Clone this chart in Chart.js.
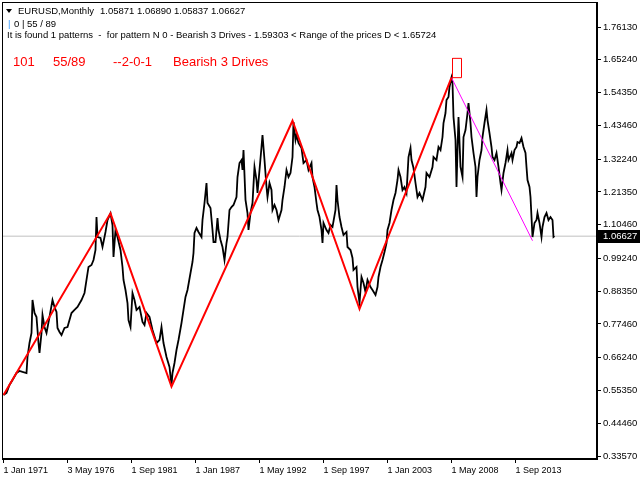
<!DOCTYPE html>
<html>
<head>
<meta charset="utf-8">
<title>EURUSD Monthly - Bearish 3 Drives</title>
<script src="https://cdn.jsdelivr.net/npm/chart.js@4.4.1/dist/chart.umd.min.js"></script>
<style>
  html, body { margin: 0; padding: 0; background: #fff; }
  #wrap { position: relative; width: 640px; height: 480px; }
</style>
</head>
<body>
<div id="wrap"><canvas id="chart"></canvas></div>
<script>
// month index counted from Jan 1971 (0 = Jan 1971)
const months = [
  0,3,6,9,13,16,19,23,24,26,
  28,29,31,33,35,36,38,39,41,43,
  46,49,51,53,54,56,58,61,64,68,
  71,74,78,81,83,85,88,90,92,93,
  94,97,99,102,104,107,109,110,112,114,
  117,119,120,122,124,125,127,129,131,133,
  136,139,141,143,146,149,153,156,158,160,
  163,166,168,169,171,173,175,178,180,182,
  184,187,189,190,191,193,195,198,199,201,
  203,204,207,209,210,212,214,215,217,219,
  221,223,224,226,228,230,233,234,236,238,
  239,240,242,244,245,247,249,251,253,254,
  256,258,259,261,263,264,266,268,269,271,
  273,275,278,279,281,283,285,287,289,290,
  292,293,295,298,300,303,305,308,309,311,
  313,314,316,318,319,320,323,325,327,329,
  332,333,334,336,338,340,343,344,347,349,
  350,353,354,356,358,360,362,364,367,369,
  372,374,375,377,379,381,383,384,386,388,
  390,392,394,395,397,399,401,403,405,407,
  408,410,412,414,416,419,422,423,426,429,
  430,433,435,437,439,440,442,443,445,446,
  448,449,450,452,453,454,455,457,459,460,
  462,464,465,467,468,470,472,473,474,476,
  478,479,481,483,484,486,488,489,491,493,
  495,497,498,500,502,504,505,508,509,511,
  513,514,516,518,520,522,523,524,526,527,
  528,529,531,533,534,536,538,539,541,543,
  545,547,549,550,551
];
const closes = [
  0.5385,0.5452,0.5717,0.5884,0.6116,0.6183,0.6150,0.6116,0.6648,0.7113,
  0.7445,0.8542,0.8110,0.7977,0.7113,0.6781,0.7445,0.8044,0.7645,0.7445,
  0.7977,0.8542,0.8309,0.8143,0.7612,0.7479,0.7379,0.7612,0.7645,0.8110,
  0.8210,0.8309,0.8542,0.8775,0.9207,0.9639,0.9705,0.9871,1.0203,1.1300,
  1.0635,1.0602,1.0303,1.0802,1.1200,1.1423,1.1034,0.9971,1.0868,1.0635,
  1.0203,0.9639,0.9207,0.8874,0.8442,0.7877,0.7645,0.8775,0.8542,0.8210,
  0.8309,0.7811,0.7711,0.8110,0.7977,0.7545,0.7113,0.7213,0.7645,0.7113,
  0.6648,0.6316,0.5700,0.6116,0.6449,0.6880,0.7213,0.7778,0.8210,0.8642,
  0.8874,0.9439,0.9805,1.0104,1.0768,1.0935,1.0802,1.0635,1.1200,1.1765,
  1.2430,1.1765,1.1599,1.0868,1.0469,1.0469,1.1267,1.0868,1.0536,1.0303,
  0.9871,1.0436,1.0635,1.1533,1.1632,1.1699,1.1965,1.2629,1.3095,1.3194,
  1.2862,1.3526,1.1865,1.1433,1.0868,1.1433,1.1765,1.2962,1.2530,1.2098,
  1.2862,1.3626,1.4025,1.3194,1.2297,1.1965,1.2430,1.2197,1.1533,1.1699,
  1.1533,1.1200,1.1533,1.1865,1.2297,1.2862,1.2629,1.2762,1.3294,1.4457,
  1.3859,1.4025,1.3759,1.3593,1.3095,1.3194,1.2862,1.3095,1.2629,1.2297,
  1.1765,1.1533,1.1300,1.0868,1.0436,1.1101,1.0868,1.0768,1.1034,1.0968,
  1.1533,1.2363,1.1865,1.1300,1.0968,1.0702,1.0802,1.0303,1.0203,0.9938,
  0.9539,0.9639,0.8974,0.8442,0.9306,0.9107,0.8808,0.9207,0.8974,0.8874,
  0.8708,0.8974,0.9306,0.9639,0.9871,1.0137,1.0436,1.0868,1.1101,1.1533,
  1.1865,1.2098,1.2530,1.2862,1.2629,1.2197,1.2297,1.2098,1.3294,1.3593,
  1.3194,1.2928,1.2430,1.1965,1.2098,1.1865,1.2297,1.2762,1.2629,1.2962,
  1.3294,1.3194,1.3626,1.3526,1.3958,1.4424,1.4756,1.5188,1.5288,1.5620,
  1.5930,1.5753,1.4623,1.3859,1.2297,1.3526,1.4623,1.2962,1.2629,1.3958,
  1.4191,1.4756,1.5088,1.4424,1.3958,1.3427,1.2962,1.1965,1.2629,1.3194,
  1.3526,1.3958,1.4424,1.4856,1.4523,1.4091,1.3626,1.3294,1.3194,1.3427,
  1.2962,1.2430,1.2197,1.2762,1.3095,1.3526,1.3194,1.3427,1.3194,1.3526,
  1.3626,1.3792,1.3759,1.3925,1.3626,1.3427,1.2962,1.2530,1.2297,1.1965,
  1.1300,1.0635,1.1101,1.1200,1.1433,1.1101,1.0635,1.0968,1.1300,1.1433,
  1.1200,1.1300,1.1200,1.0635,1.06627
];

// the 3 drives zigzag (red) and the projection after point D (magenta)
const patternMonths = [0, 107, 168, 289, 356, 448];
const patternPrices = [0.5385, 1.1423, 0.5661, 1.4500, 0.8243, 1.5930];
const targetMonths = [448, 529];
const targetPrices = [1.5930, 1.0512];
// range of the prices D box
const rangeMonths = [449, 458];
const rangePrices = [1.59303, 1.65724];

const lastPrice = 1.06627;
const ohlc = ['1.05871', '1.06890', '1.05837', '1.06627'];

const dateTicks = [0, 64, 128, 192, 256, 320, 384, 448, 512];
const dateLabels = ['1 Jan 1971', '3 May 1976', '1 Sep 1981', '1 Jan 1987', '1 May 1992',
                    '1 Sep 1997', '1 Jan 2003', '1 May 2008', '1 Sep 2013'];
const priceTicks = [1.76130, 1.65240, 1.54350, 1.43460, 1.32240, 1.21350, 1.10460,
                    0.99240, 0.88350, 0.77460, 0.66240, 0.55350, 0.44460, 0.33570];

const font = '"Liberation Sans", Arial, sans-serif';

function pts(xs, ys) {
    return xs.map((x, i) => ({ x: x, y: ys[i] }));
}

const rangeBox = pts(
    [rangeMonths[0], rangeMonths[1], rangeMonths[1], rangeMonths[0], rangeMonths[0]],
    [rangePrices[0], rangePrices[0], rangePrices[1], rangePrices[1], rangePrices[0]]
);

// frame, header texts and the current price box, MT4 style
const mtOverlay = {
    id: 'mtOverlay',
    afterDraw(chart) {
        const ctx = chart.ctx;
        const a = chart.chartArea;
        ctx.save();
        ctx.strokeStyle = '#000';
        ctx.lineWidth = 1;
        ctx.strokeRect(a.left + 0.5, a.top + 0.5, a.right - a.left - 1, a.bottom - a.top - 1);

        const py = Math.round(chart.scales.y.getPixelForValue(lastPrice));
        ctx.fillStyle = '#000';
        ctx.fillRect(a.right, py - 6, chart.width - a.right, 13);
        ctx.fillStyle = '#fff';
        ctx.font = '9.5px ' + font;
        ctx.textBaseline = 'middle';
        ctx.fillText(lastPrice.toFixed(5), a.right + 6, py + 0.5);

        // header
        ctx.fillStyle = '#000';
        ctx.beginPath();
        ctx.moveTo(6, 9); ctx.lineTo(12, 9); ctx.lineTo(9, 13); ctx.closePath();
        ctx.fill();
        ctx.textBaseline = 'alphabetic';
        ctx.font = '9.5px ' + font;
        ctx.fillText('EURUSD,Monthly', 18, 14);
        ctx.fillText(ohlc.join(' '), 100, 14);
        ctx.fillStyle = '#3399ff';
        ctx.fillText('|', 8, 27);
        ctx.fillStyle = '#000';
        ctx.fillText('0 | 55 / 89', 14, 27);
        ctx.fillText('It is found 1 patterns  -  for pattern N 0 - Bearish 3 Drives - 1.59303 < Range of the prices D < 1.65724', 7, 38);

        ctx.fillStyle = '#ff0000';
        ctx.font = '13px ' + font;
        ctx.fillText('101', 13, 66);
        ctx.fillText('55/89', 53, 66);
        ctx.fillText('--2-0-1', 113, 66);
        ctx.fillText('Bearish 3 Drives', 173, 66);
        ctx.restore();
    }
};

function noEdgePadding(scale) {
    scale.paddingTop = 0;
    scale.paddingBottom = 0;
    scale.paddingLeft = 0;
    scale.paddingRight = 0;
}

const canvas = document.getElementById('chart');
new Chart(canvas.getContext('2d'), {
    type: 'line',
    data: {
        datasets: [
            { data: pts(patternMonths, patternPrices), borderColor: '#ff0000', borderWidth: 2 },
            { data: pts(targetMonths, targetPrices), borderColor: '#ff00ff', borderWidth: 1 },
            { data: rangeBox, borderColor: '#ff0000', borderWidth: 1 },
            { data: pts(months, closes), borderColor: '#000000', borderWidth: 1.8 },
            { data: [{ x: -10, y: lastPrice }, { x: 600, y: lastPrice }], borderColor: '#c0c0c0', borderWidth: 1 }
        ]
    },
    options: {
        responsive: true,
        maintainAspectRatio: false,
        animation: false,
        layout: { padding: { left: 2, top: 2, right: 0, bottom: 0 } },
        elements: { point: { radius: 0 }, line: { tension: 0 } },
        plugins: { legend: { display: false }, tooltip: { enabled: false } },
        scales: {
            x: {
                type: 'linear',
                position: 'bottom',
                min: -1.5,
                max: 593.5,
                afterBuildTicks: (scale) => { scale.ticks = dateTicks.map(v => ({ value: v })); },
                afterFit: (scale) => { scale.height = 21; noEdgePadding(scale); },
                grid: { drawOnChartArea: false, drawTicks: true, tickLength: 4, color: '#000' },
                border: { display: true, color: '#000' },
                ticks: {
                    autoSkip: false, maxRotation: 0, align: 'start', padding: 2,
                    color: '#000', font: { family: font, size: 9 },
                    callback: (value, index) => dateLabels[index]
                }
            },
            y: {
                type: 'linear',
                position: 'right',
                min: 0.3258,
                max: 1.8445,
                afterBuildTicks: (scale) => { scale.ticks = priceTicks.map(v => ({ value: v })); },
                afterFit: (scale) => { scale.width = 43; noEdgePadding(scale); },
                grid: { drawOnChartArea: false, drawTicks: true, tickLength: 4, color: '#000' },
                border: { display: true, color: '#000' },
                ticks: {
                    autoSkip: false, padding: 2,
                    color: '#000', font: { family: font, size: 9.5 },
                    callback: (value) => Number(value).toFixed(5)
                }
            }
        }
    },
    plugins: [mtOverlay]
});
</script>
</body>
</html>
